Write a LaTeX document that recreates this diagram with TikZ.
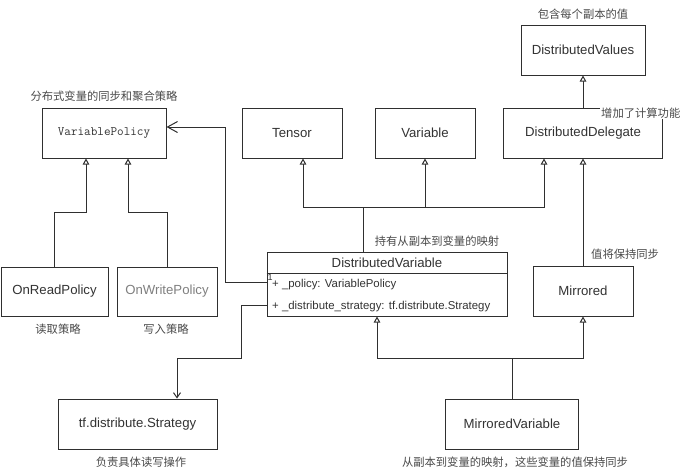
\documentclass[tikz,border=0pt]{standalone}
\usepackage{fontspec}
\setmainfont{Liberation Sans}
\newfontfamily\cjk{Noto Sans CJK SC}
\usetikzlibrary{positioning,arrows.meta,calc}
\definecolor{umlline}{HTML}{2F2F2F}
\definecolor{umltext}{HTML}{333333}
\definecolor{umlnote}{HTML}{4A4A4A}

\begin{document}
\begin{tikzpicture}[x=1pt, y=-1pt,
    cls/.style={draw=umlline, line width=1pt, fill=white, text=umltext, minimum height=50pt, inner sep=2pt, font=\fontsize{13.2}{15}\selectfont},
    note/.style={text=umlnote, inner sep=1pt, font=\cjk\fontsize{11.3}{13}\selectfont},
    attr/.style={anchor=west, text=umltext, inner sep=0pt, font=\fontsize{11.4}{13}\selectfont},
    inh/.style={draw=umlline, line width=1pt, -{Triangle[length=6pt, width=6.5pt, open, fill=white]}},
    assoc/.style={draw=umlline, line width=1pt, -{Straight Barb[length=5pt, width=7pt]}},
    hold/.style={draw=umlline, line width=1pt, -{Straight Barb[length=10pt, width=11pt]}}]
    % Canvas
    \fill[white] (0,0) rectangle (700,475);
    \useasboundingbox (0,0) rectangle (700,475);

    % Policy classes
    \node[cls, minimum width=124pt, font=\ttfamily\fontsize{12.8}{15}\selectfont] (varpolicy) at (104,133) {VariablePolicy};
    \node[cls, minimum width=107pt, minimum height=49pt] (onread) at (54.5,291.5) {OnReadPolicy};
    \node[cls, minimum width=100pt, minimum height=49pt, text=gray] (onwrite) at (167,291.5) {OnWritePolicy};

    % Base classes
    \node[cls, minimum width=100pt] (tensor) at (292,133) {Tensor};
    \node[cls, minimum width=100pt] (variable) at (425,133) {Variable};
    \node[cls, minimum width=159pt] (delegate) at (583,133) {DistributedDelegate};
    \node[cls, minimum width=124pt] (values) at (583,50) {DistributedValues};

    % DistributedVariable (class with attributes)
    \node[cls, minimum width=240pt, minimum height=64pt] (distvar) at (387,284) {};
    \node[text=umltext, inner sep=0pt, font=\fontsize{13.2}{15}\selectfont] (distvarname) at (387,262.5) {DistributedVariable};
    \draw[umlline, line width=1pt] (distvar.west |- 0,273) -- (distvar.east |- 0,273);
    \node[attr] (attrpolicy) at (272,285) {+ \_policy: VariablePolicy};
    \node[attr] (attrstrategy) at (272,307) {+ \_distribute\_strategy: tf.distribute.Strategy};

    % Lower classes
    \node[cls, minimum width=100pt] (mirrored) at (583,291) {Mirrored};
    \node[cls, minimum width=159pt] (strategy) at (137.5,424) {tf.distribute.Strategy};
    \node[cls, minimum width=133pt] (mirvar) at (512,424) {MirroredVariable};

    % Notes
    \node[note] (notepolicy) at (104,96) {分布式变量的同步和聚合策略};
    \node[note] (notevalues) at (583,14) {包含每个副本的值};
    \node[note] (noteread) at (58,329) {读取策略};
    \node[note] (notewrite) at (166,329) {写入策略};
    \node[note] (notedistvar) at (437,241) {持有从副本到变量的映射};
    \node[note, anchor=west] (notemirrored) at (590,254) {值将保持同步};
    \node[note] (notestrategy) at (141,462) {负责具体读写操作};
    \node[note] (notemirvar) at (515,462) {从副本到变量的映射，这些变量的值保持同步};

    % Inheritance of the policies
    \coordinate (jp1) at (86,212);
    \coordinate (jp2) at (128,212);
    \draw[inh] (onread.north) |- (jp1) -- (varpolicy.south -| jp1);
    \draw[inh] (onwrite.north) |- (jp2) -- (varpolicy.south -| jp2);

    % DistributedVariable inherits Tensor, Variable, DistributedDelegate
    \coordinate (jd) at (363,207);
    \coordinate (jt) at (303,207);
    \draw[inh] (distvar.north -| jd) -- (jd) -- (jt) -- (tensor.south -| jt);
    \draw[inh] (jd) -| (variable.south);
    \draw[inh] (jd) -| ($(delegate.south)+(-39,0)$);

    % Delegate chain
    \draw[inh] (delegate.north) -- (values.south);
    \draw[inh] (mirrored.north) -- (delegate.south);

    % Association to VariablePolicy
    \coordinate (ja) at (225,282);
    \draw[hold] (distvar.west |- ja) -- (ja) |- ($(varpolicy.east)+(0,-6)$);
    \node[anchor=south west, inner sep=1pt, text=umltext, font=\fontsize{9}{10}\selectfont] (mult) at (distvar.west |- ja) {1};

    % Association to tf.distribute.Strategy
    \coordinate (js1) at (241,305);
    \coordinate (js2) at (177,358);
    \draw[assoc] (distvar.west |- js1) -- (js1) |- (js2) -- (strategy.north -| js2);

    % MirroredVariable inherits DistributedVariable and Mirrored
    \coordinate (jm) at (512,358);
    \draw[inh] (mirvar.north) -- (jm) -| ($(distvar.south)+(-10,0)$);
    \draw[inh] (jm) -| (mirrored.south);

    % Note drawn over the corner of DistributedDelegate
    \node[note, anchor=west, fill=white] (notedelegate) at (600,113) {增加了计算功能};
\end{tikzpicture}
\end{document}
